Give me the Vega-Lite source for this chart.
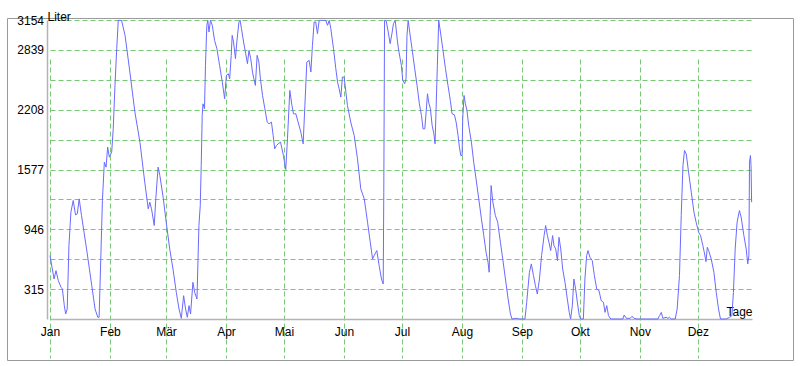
{
  "$schema": "https://vega.github.io/schema/vega-lite/v6.json",
  "width": 786,
  "height": 342,
  "autosize": {"type": "none"},
  "padding": {"left": 7, "top": 18, "right": 7, "bottom": 6},
  "background": "white",
  "config": {
    "view": {"stroke": "#9a9a9a", "strokeWidth": 1},
    "font": "Liberation Sans"
  },
  "data": {
    "values": [
      {"Tag": 0, "Liter": 669}, {"Tag": 2.1, "Liter": 422}, {"Tag": 3.1, "Liter": 510}, {"Tag": 4.3, "Liter": 405},
      {"Tag": 5.7, "Liter": 334}, {"Tag": 6.4, "Liter": 317}, {"Tag": 7.4, "Liter": 141}, {"Tag": 8.1, "Liter": 53},
      {"Tag": 8.9, "Liter": 106}, {"Tag": 9.8, "Liter": 774}, {"Tag": 10.8, "Liter": 1126}, {"Tag": 12.0, "Liter": 1250},
      {"Tag": 13.2, "Liter": 1098}, {"Tag": 14.1, "Liter": 1109}, {"Tag": 15.1, "Liter": 1267}, {"Tag": 16.3, "Liter": 1091},
      {"Tag": 18.9, "Liter": 739}, {"Tag": 21.6, "Liter": 352}, {"Tag": 23.3, "Liter": 106}, {"Tag": 24.7, "Liter": 18},
      {"Tag": 25.4, "Liter": 18}, {"Tag": 26.4, "Liter": 739}, {"Tag": 27.1, "Liter": 1250}, {"Tag": 28.1, "Liter": 1654},
      {"Tag": 29.0, "Liter": 1602}, {"Tag": 29.8, "Liter": 1813}, {"Tag": 30.7, "Liter": 1707}, {"Tag": 31.9, "Liter": 1760},
      {"Tag": 32.7, "Liter": 2006}, {"Tag": 33.6, "Liter": 2464}, {"Tag": 34.5, "Liter": 2851}, {"Tag": 35.3, "Liter": 3150},
      {"Tag": 37.0, "Liter": 3150}, {"Tag": 38.8, "Liter": 2992}, {"Tag": 41.3, "Liter": 2605}, {"Tag": 43.9, "Liter": 2182},
      {"Tag": 46.5, "Liter": 1866}, {"Tag": 49.0, "Liter": 1443}, {"Tag": 50.8, "Liter": 1162}, {"Tag": 51.6, "Liter": 1232},
      {"Tag": 52.5, "Liter": 1162}, {"Tag": 53.9, "Liter": 986}, {"Tag": 54.7, "Liter": 1267}, {"Tag": 55.9, "Liter": 1602},
      {"Tag": 56.8, "Liter": 1514}, {"Tag": 58.5, "Liter": 1285}, {"Tag": 60.1, "Liter": 1021}, {"Tag": 61.9, "Liter": 739},
      {"Tag": 63.6, "Liter": 528}, {"Tag": 65.3, "Liter": 282}, {"Tag": 66.7, "Liter": 106}, {"Tag": 67.9, "Liter": 7},
      {"Tag": 69.1, "Liter": 246}, {"Tag": 70.1, "Liter": 106}, {"Tag": 71.0, "Liter": 18}, {"Tag": 71.9, "Liter": 141},
      {"Tag": 72.7, "Liter": 53}, {"Tag": 73.9, "Liter": 387}, {"Tag": 74.8, "Liter": 282}, {"Tag": 76.0, "Liter": 211},
      {"Tag": 77.0, "Liter": 986}, {"Tag": 77.7, "Liter": 1197}, {"Tag": 78.2, "Liter": 1619}, {"Tag": 78.7, "Liter": 2147},
      {"Tag": 79.1, "Liter": 2270}, {"Tag": 79.9, "Liter": 2218}, {"Tag": 80.4, "Liter": 2675}, {"Tag": 81.1, "Liter": 3098},
      {"Tag": 81.6, "Liter": 3150}, {"Tag": 82.2, "Liter": 3027}, {"Tag": 83.0, "Liter": 3150}, {"Tag": 83.9, "Liter": 3098},
      {"Tag": 85.1, "Liter": 2939}, {"Tag": 86.3, "Liter": 2851}, {"Tag": 87.7, "Liter": 2675}, {"Tag": 89.1, "Liter": 2499},
      {"Tag": 90.3, "Liter": 2323}, {"Tag": 91.2, "Liter": 2570}, {"Tag": 92.2, "Liter": 2587}, {"Tag": 92.9, "Liter": 2534},
      {"Tag": 93.7, "Liter": 2781}, {"Tag": 94.2, "Liter": 2992}, {"Tag": 94.9, "Liter": 2922}, {"Tag": 95.9, "Liter": 2746},
      {"Tag": 96.6, "Liter": 2922}, {"Tag": 97.7, "Liter": 3133}, {"Tag": 98.3, "Liter": 3150}, {"Tag": 99.0, "Liter": 3063},
      {"Tag": 100.1, "Liter": 2922}, {"Tag": 101.2, "Liter": 2799}, {"Tag": 102.1, "Liter": 2693}, {"Tag": 102.9, "Liter": 2834},
      {"Tag": 103.8, "Liter": 2746}, {"Tag": 104.7, "Liter": 2605}, {"Tag": 105.4, "Liter": 2534}, {"Tag": 106.2, "Liter": 2464},
      {"Tag": 107.1, "Liter": 2781}, {"Tag": 108.0, "Liter": 2710}, {"Tag": 108.8, "Liter": 2534}, {"Tag": 109.9, "Liter": 2358},
      {"Tag": 111.1, "Liter": 2218}, {"Tag": 112.3, "Liter": 2077}, {"Tag": 113.3, "Liter": 2059}, {"Tag": 114.5, "Liter": 2077},
      {"Tag": 115.4, "Liter": 1936}, {"Tag": 116.2, "Liter": 1795}, {"Tag": 117.1, "Liter": 1830}, {"Tag": 118.0, "Liter": 1848},
      {"Tag": 119.2, "Liter": 1866}, {"Tag": 120.7, "Liter": 1725}, {"Tag": 121.9, "Liter": 1577}, {"Tag": 122.8, "Liter": 1901},
      {"Tag": 124.0, "Liter": 2411}, {"Tag": 125.1, "Liter": 2253}, {"Tag": 125.9, "Liter": 2165}, {"Tag": 127.1, "Liter": 2165},
      {"Tag": 128.3, "Liter": 2077}, {"Tag": 129.7, "Liter": 1971}, {"Tag": 130.9, "Liter": 1848}, {"Tag": 131.8, "Liter": 2253},
      {"Tag": 132.8, "Liter": 2710}, {"Tag": 134.0, "Liter": 2728}, {"Tag": 134.9, "Liter": 2605}, {"Tag": 135.7, "Liter": 2886},
      {"Tag": 136.6, "Liter": 3133}, {"Tag": 137.4, "Liter": 3133}, {"Tag": 138.3, "Liter": 3010}, {"Tag": 139.2, "Liter": 3150},
      {"Tag": 140.9, "Liter": 3150}, {"Tag": 142.6, "Liter": 3150}, {"Tag": 143.5, "Liter": 3098}, {"Tag": 144.4, "Liter": 3150},
      {"Tag": 145.2, "Liter": 3063}, {"Tag": 146.6, "Liter": 2851}, {"Tag": 147.8, "Liter": 2640}, {"Tag": 148.7, "Liter": 2499},
      {"Tag": 149.5, "Liter": 2429}, {"Tag": 150.4, "Liter": 2341}, {"Tag": 151.2, "Liter": 2552}, {"Tag": 152.1, "Liter": 2552},
      {"Tag": 153.0, "Liter": 2394}, {"Tag": 153.8, "Liter": 2253}, {"Tag": 155.5, "Liter": 2077}, {"Tag": 157.3, "Liter": 1936},
      {"Tag": 159.0, "Liter": 1690}, {"Tag": 160.7, "Liter": 1373}, {"Tag": 162.5, "Liter": 1267}, {"Tag": 164.2, "Liter": 1021},
      {"Tag": 165.6, "Liter": 810}, {"Tag": 166.8, "Liter": 634}, {"Tag": 167.6, "Liter": 669}, {"Tag": 169.0, "Liter": 722},
      {"Tag": 170.2, "Liter": 563}, {"Tag": 171.4, "Liter": 422}, {"Tag": 172.3, "Liter": 370}, {"Tag": 172.6, "Liter": 1338},
      {"Tag": 173.0, "Liter": 3150}, {"Tag": 173.8, "Liter": 3150}, {"Tag": 174.9, "Liter": 3027}, {"Tag": 175.9, "Liter": 2904},
      {"Tag": 176.8, "Liter": 3010}, {"Tag": 177.6, "Liter": 3115}, {"Tag": 178.5, "Liter": 3150}, {"Tag": 179.7, "Liter": 2922},
      {"Tag": 180.3, "Liter": 2834}, {"Tag": 181.7, "Liter": 2675}, {"Tag": 182.4, "Liter": 2517}, {"Tag": 183.4, "Liter": 2482},
      {"Tag": 184.1, "Liter": 2534}, {"Tag": 184.6, "Liter": 2992}, {"Tag": 185.2, "Liter": 3150}, {"Tag": 186.0, "Liter": 3027},
      {"Tag": 187.2, "Liter": 2851}, {"Tag": 188.6, "Liter": 2640}, {"Tag": 189.8, "Liter": 2464}, {"Tag": 191.0, "Liter": 2270},
      {"Tag": 192.1, "Liter": 2147}, {"Tag": 192.9, "Liter": 2006}, {"Tag": 193.8, "Liter": 2006}, {"Tag": 194.5, "Liter": 2182},
      {"Tag": 195.2, "Liter": 2376}, {"Tag": 195.8, "Liter": 2288}, {"Tag": 196.7, "Liter": 2218}, {"Tag": 197.6, "Liter": 2042},
      {"Tag": 198.5, "Liter": 1954}, {"Tag": 199.1, "Liter": 1848}, {"Tag": 199.6, "Liter": 2182}, {"Tag": 200.3, "Liter": 2675},
      {"Tag": 201.0, "Liter": 3150}, {"Tag": 201.9, "Liter": 3027}, {"Tag": 203.1, "Liter": 2851}, {"Tag": 204.5, "Liter": 2640},
      {"Tag": 205.8, "Liter": 2464}, {"Tag": 207.0, "Liter": 2306}, {"Tag": 207.9, "Liter": 2165}, {"Tag": 209.1, "Liter": 2154},
      {"Tag": 210.0, "Liter": 2077}, {"Tag": 211.0, "Liter": 1936}, {"Tag": 211.7, "Liter": 1813}, {"Tag": 212.4, "Liter": 1725},
      {"Tag": 213.1, "Liter": 1725}, {"Tag": 213.4, "Liter": 2112}, {"Tag": 214.1, "Liter": 2358}, {"Tag": 214.8, "Liter": 2270},
      {"Tag": 215.6, "Liter": 2200}, {"Tag": 216.5, "Liter": 2042}, {"Tag": 217.9, "Liter": 1866}, {"Tag": 219.1, "Liter": 1654},
      {"Tag": 220.3, "Liter": 1478}, {"Tag": 221.7, "Liter": 1267}, {"Tag": 223.1, "Liter": 1056}, {"Tag": 224.3, "Liter": 880},
      {"Tag": 225.5, "Liter": 704}, {"Tag": 226.5, "Liter": 598}, {"Tag": 227.1, "Liter": 493}, {"Tag": 227.6, "Liter": 1091},
      {"Tag": 228.1, "Liter": 1408}, {"Tag": 229.0, "Liter": 1232}, {"Tag": 230.3, "Liter": 1091}, {"Tag": 231.5, "Liter": 1021},
      {"Tag": 232.9, "Liter": 810}, {"Tag": 234.1, "Liter": 634}, {"Tag": 235.5, "Liter": 422}, {"Tag": 236.9, "Liter": 211},
      {"Tag": 238.1, "Liter": 53}, {"Tag": 238.9, "Liter": 0}, {"Tag": 241.3, "Liter": 7}, {"Tag": 242.7, "Liter": 0},
      {"Tag": 245.6, "Liter": 0}, {"Tag": 246.5, "Liter": 176}, {"Tag": 247.9, "Liter": 493}, {"Tag": 248.9, "Liter": 581},
      {"Tag": 250.0, "Liter": 458}, {"Tag": 251.0, "Liter": 352}, {"Tag": 252.0, "Liter": 264}, {"Tag": 253.1, "Liter": 422},
      {"Tag": 254.2, "Liter": 669}, {"Tag": 255.5, "Liter": 880}, {"Tag": 256.3, "Liter": 986}, {"Tag": 257.2, "Liter": 880},
      {"Tag": 258.0, "Liter": 810}, {"Tag": 258.9, "Liter": 722}, {"Tag": 259.9, "Liter": 880}, {"Tag": 260.6, "Liter": 774},
      {"Tag": 261.5, "Liter": 739}, {"Tag": 262.4, "Liter": 616}, {"Tag": 263.2, "Liter": 862}, {"Tag": 264.1, "Liter": 739},
      {"Tag": 265.1, "Liter": 528}, {"Tag": 266.3, "Liter": 387}, {"Tag": 267.5, "Liter": 211}, {"Tag": 268.5, "Liter": 70},
      {"Tag": 269.2, "Liter": 0}, {"Tag": 270.1, "Liter": 141}, {"Tag": 270.9, "Liter": 422}, {"Tag": 271.8, "Liter": 317},
      {"Tag": 272.7, "Liter": 176}, {"Tag": 273.7, "Liter": 35}, {"Tag": 274.4, "Liter": 0}, {"Tag": 275.8, "Liter": 0},
      {"Tag": 276.6, "Liter": 422}, {"Tag": 277.5, "Liter": 669}, {"Tag": 278.2, "Liter": 722}, {"Tag": 279.2, "Liter": 651},
      {"Tag": 280.4, "Liter": 616}, {"Tag": 281.5, "Liter": 458}, {"Tag": 282.7, "Liter": 317}, {"Tag": 283.9, "Liter": 299},
      {"Tag": 285.0, "Liter": 194}, {"Tag": 286.2, "Liter": 176}, {"Tag": 287.0, "Liter": 70}, {"Tag": 287.9, "Liter": 141},
      {"Tag": 288.8, "Liter": 35}, {"Tag": 290.0, "Liter": 0}, {"Tag": 296.2, "Liter": 0}, {"Tag": 296.9, "Liter": 42},
      {"Tag": 298.0, "Liter": 7}, {"Tag": 300.0, "Liter": 7}, {"Tag": 300.9, "Liter": 28}, {"Tag": 302.1, "Liter": 7},
      {"Tag": 303.5, "Liter": 0}, {"Tag": 314.3, "Liter": 0}, {"Tag": 315.2, "Liter": 35}, {"Tag": 316.1, "Liter": 70},
      {"Tag": 316.9, "Liter": 7}, {"Tag": 318.6, "Liter": 18}, {"Tag": 319.5, "Liter": 7}, {"Tag": 320.3, "Liter": 18},
      {"Tag": 321.2, "Liter": 0}, {"Tag": 323.3, "Liter": 0}, {"Tag": 324.3, "Liter": 106}, {"Tag": 325.5, "Liter": 458},
      {"Tag": 326.4, "Liter": 1091}, {"Tag": 327.3, "Liter": 1619}, {"Tag": 328.1, "Liter": 1778}, {"Tag": 329.0, "Liter": 1742},
      {"Tag": 330.2, "Liter": 1549}, {"Tag": 331.6, "Liter": 1338}, {"Tag": 333.0, "Liter": 1126}, {"Tag": 334.1, "Liter": 1021},
      {"Tag": 335.4, "Liter": 915}, {"Tag": 336.4, "Liter": 880}, {"Tag": 337.6, "Liter": 774}, {"Tag": 338.5, "Liter": 686},
      {"Tag": 339.2, "Liter": 605}, {"Tag": 339.9, "Liter": 757}, {"Tag": 340.6, "Liter": 722}, {"Tag": 341.9, "Liter": 634},
      {"Tag": 343.3, "Liter": 493}, {"Tag": 344.5, "Liter": 282}, {"Tag": 345.7, "Liter": 106}, {"Tag": 346.7, "Liter": 0},
      {"Tag": 349.6, "Liter": 0}, {"Tag": 351.4, "Liter": 18}, {"Tag": 352.6, "Liter": 35}, {"Tag": 353.4, "Liter": 282},
      {"Tag": 354.3, "Liter": 739}, {"Tag": 355.3, "Liter": 1021}, {"Tag": 356.5, "Liter": 1144}, {"Tag": 357.4, "Liter": 1074},
      {"Tag": 358.8, "Liter": 880}, {"Tag": 360.0, "Liter": 739}, {"Tag": 360.8, "Liter": 581}, {"Tag": 361.4, "Liter": 669},
      {"Tag": 361.7, "Liter": 1654}, {"Tag": 362.2, "Liter": 1725}, {"Tag": 362.5, "Liter": 1619}, {"Tag": 362.8, "Liter": 1232}
    ]
  },
  "mark": {"type": "line", "color": "#6a6aff", "strokeWidth": 1},
  "encoding": {
    "x": {
      "field": "Tag",
      "type": "quantitative",
      "scale": {"domain": [0, 363], "range": [43, 745], "nice": false, "zero": false},
      "axis": {
        "values": [0, 31, 60, 91, 121, 152, 182, 213, 244, 274, 305, 335],
        "labelExpr": "['Jan','Feb','Mär','Apr','Mai','Jun','Jul','Aug','Sep','Okt','Nov','Dez'][indexof([0,31,60,91,121,152,182,213,244,274,305,335], datum.value)]",
        "offset": -41,
        "title": "Tage",
        "titleX": 745,
        "titleY": -4,
        "titleAlign": "right",
        "titleBaseline": "alphabetic",
        "titleFont": "Liberation Sans",
        "titleFontSize": 12,
        "titleFontWeight": "normal",
        "titleColor": "#000000",
        "labelFont": "Liberation Sans",
        "labelFontSize": 12,
        "labelColor": "#000000",
        "labelPadding": 7,
        "labelFlush": false,
        "labelOverlap": false,
        "ticks": false,
        "domainColor": "#b4b4b4",
        "domainWidth": 1.5,
        "grid": true,
        "gridColor": "#78c878",
        "gridDash": [5, 3],
        "gridWidth": 1
      }
    },
    "y": {
      "field": "Liter",
      "type": "quantitative",
      "scale": {"domain": [0, 3154], "range": [301, 2], "nice": false},
      "axis": {
        "values": [0, 315.4, 630.8, 946.2, 1261.6, 1577, 1892.4, 2207.8, 2523.2, 2838.6, 3154],
        "labelExpr": "(round(datum.value/315.4) % 2 == 1 || round(datum.value/315.4) == 10) ? format(datum.value, '.0f') : ''",
        "offset": -40,
        "title": "Liter",
        "titleAngle": 0,
        "titleX": 0,
        "titleY": 2,
        "titleAlign": "left",
        "titleBaseline": "alphabetic",
        "titleFont": "Liberation Sans",
        "titleFontSize": 12,
        "titleFontWeight": "normal",
        "titleColor": "#000000",
        "labelFont": "Liberation Sans",
        "labelFontSize": 12,
        "labelColor": "#000000",
        "labelPadding": 3.5,
        "labelFlush": false,
        "labelOverlap": false,
        "ticks": false,
        "domainColor": "#b4b4b4",
        "domainWidth": 1.5,
        "grid": true,
        "gridColor": "#78c878",
        "gridDash": [5, 3],
        "gridWidth": 1
      }
    }
  }
}
